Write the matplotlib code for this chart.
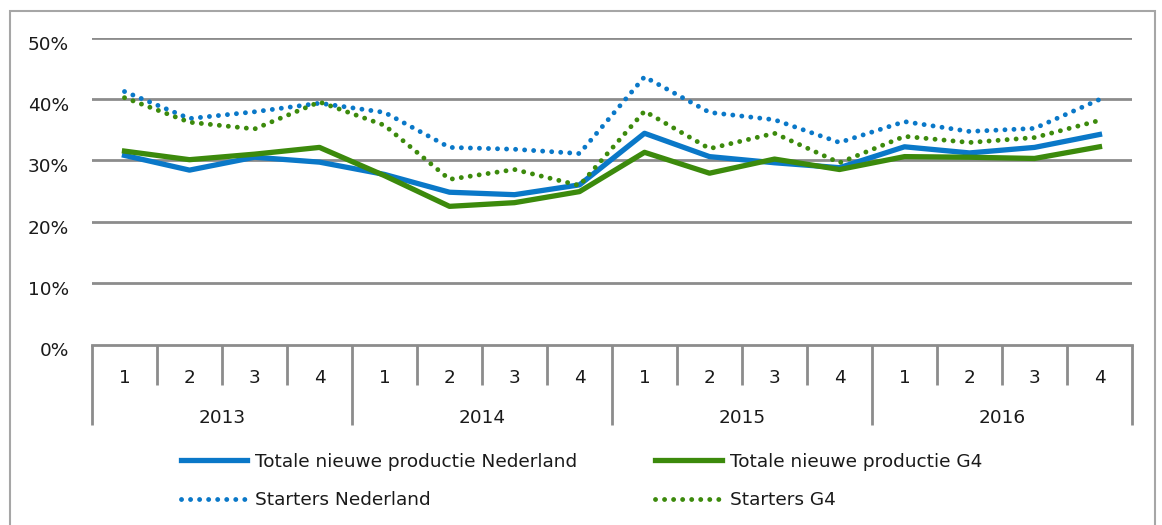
import matplotlib.pyplot as plt
from matplotlib.transforms import blended_transform_factory, ScaledTranslation
from matplotlib.patches import Rectangle

plt.rcParams['font.family'] = 'DejaVu Sans'
plt.rcParams['font.size'] = 13.3

years = ["2013", "2014", "2015", "2016"]
quarters = ["1", "2", "3", "4"]

totaal_nl = [30.8, 28.4, 30.5, 29.7, 27.7, 24.8, 24.4, 26.0, 34.4, 30.6, 29.6, 28.8, 32.2, 31.2, 32.1, 34.2]
totaal_g4 = [31.5, 30.1, 31.0, 32.1, 27.5, 22.5, 23.1, 24.9, 31.3, 27.9, 30.2, 28.5, 30.6, 30.5, 30.3, 32.2]
starters_nl = [41.2, 36.8, 37.9, 39.3, 37.8, 32.1, 31.8, 31.1, 43.6, 37.8, 36.6, 32.9, 36.3, 34.7, 35.2, 39.9]
starters_g4 = [40.2, 36.2, 35.1, 39.5, 35.7, 26.9, 28.5, 25.9, 38.0, 31.9, 34.4, 29.6, 33.9, 32.9, 33.7, 36.5]

blue = "#0A78C8"
green = "#3C8A0C"
grey = "#8C8C8C"
txt = "#1a1a1a"

W, H = 1162, 525
fig = plt.figure(figsize=(W / 100, H / 100), dpi=100)
ax = fig.add_axes([92 / W, 1 - 344.5 / H, (1132 - 92) / W, (344.5 - 37.5) / H])

n = len(totaal_nl)
x = list(range(n))

l1, = ax.plot(x, totaal_nl, color=blue, lw=3.8, solid_joinstyle='round', label="Totale nieuwe productie Nederland")
l2, = ax.plot(x, totaal_g4, color=green, lw=3.8, solid_joinstyle='round', label="Totale nieuwe productie G4")
l3, = ax.plot(x, starters_nl, color=blue, lw=3.5, linestyle=(0, (0.01, 1.85)), dash_capstyle='round',
              label="Starters Nederland")
l4, = ax.plot(x, starters_g4, color=green, lw=3.5, linestyle=(0, (0.01, 1.85)), dash_capstyle='round',
              label="Starters G4")

ax.set_xlim(-0.5, n - 0.5)
ax.set_ylim(0, 50)

# gridlines
for v in [10, 20, 30, 40, 50]:
    ax.axhline(v, color=grey, lw=2.0, zorder=0)
for s in ['left', 'right', 'top']:
    ax.spines[s].set_visible(False)
ax.spines['bottom'].set_color(grey)
ax.spines['bottom'].set_linewidth(2.0)
ax.set_xticks([])
ax.set_yticks([])

# y labels (shifted slightly down like the original)
off = ScaledTranslation(-23 / 100, -7 / 100, fig.dpi_scale_trans)
ytr = blended_transform_factory(ax.transAxes, ax.transData) + off
for v in [0, 10, 20, 30, 40, 50]:
    ax.text(0, v, f"{v}%", transform=ytr, ha='right', va='center', color=txt)

# category axis: quarters and years
trx = blended_transform_factory(ax.transData, fig.transFigure)
y_axis = 1 - 344.5 / H
y_q = 1 - 385 / H
y_y = 1 - 425 / H
for i in range(n + 1):
    bottom = y_y if i % len(quarters) == 0 else y_q
    ax.plot([i - 0.5, i - 0.5], [y_axis, bottom], transform=trx, color=grey, lw=2.0,
            clip_on=False, solid_capstyle='butt')
for i in range(n):
    ax.text(i, 1 - 378 / H, quarters[i % len(quarters)], transform=trx, ha='center', va='center', color=txt)
for j, yr in enumerate(years):
    xc = j * len(quarters) + (len(quarters) - 1) / 2
    ax.text(xc, 1 - 418 / H, yr, transform=trx, ha='center', va='center', color=txt)

# legend (row-wise order like the original)
leg = ax.legend([l1, l3, l2, l4], [l.get_label() for l in (l1, l3, l2, l4)],
                loc='upper left', bbox_to_anchor=(164 / W, 1 - 436 / H), bbox_transform=fig.transFigure,
                ncol=2, frameon=False, handlelength=3.6, handletextpad=0.45,
                columnspacing=4.2, labelspacing=1.12)
for t in leg.get_texts():
    t.set_color(txt)

# outer border
fig.patches.append(Rectangle((10 / W, -0.05), (1155 - 10) / W, 1.05 - 11 / H, transform=fig.transFigure,
                             fill=False, edgecolor='#A6A6A6', lw=1.5))

fig.savefig("out.png", dpi=100)
